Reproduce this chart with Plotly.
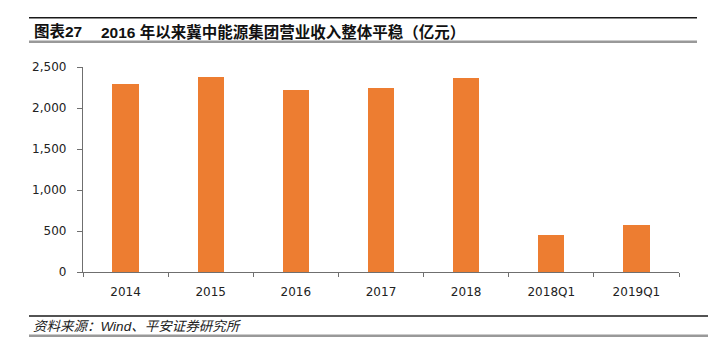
import plotly.graph_objects as go

categories = ["2014", "2015", "2016", "2017", "2018", "2018Q1", "2019Q1"]
revenue = [2293, 2378, 2219, 2244, 2366, 455, 573]
y_ticks = [0, 500, 1000, 1500, 2000, 2500]
title_prefix = "图表27"
title_text = "2016 年以来冀中能源集团营业收入整体平稳（亿元）"
source_text = "资料来源：Wind、平安证券研究所"

W, H = 708, 352
L, R, T, B = 83, 29, 67, 80
PW, PH = W - L - R, H - T - B


def px(x):
    return (x - L) / PW


def py(y):
    return (H - B - y) / PH


fig = go.Figure()
fig.add_trace(go.Bar(
    x=categories, y=revenue,
    marker=dict(color="#ED7D31", line=dict(width=0)),
    width=0.31,
))

font_cjk = "Liberation Sans, Noto Sans CJK SC, sans-serif"

shapes = [
    dict(type="line", xref="paper", yref="paper", x0=px(29), x1=px(697), y0=py(17.7), y1=py(17.7),
         line=dict(color="#1a1a1a", width=1.5)),
    dict(type="line", xref="paper", yref="paper", x0=px(29), x1=px(697), y0=py(41.7), y1=py(41.7),
         line=dict(color="#999999", width=2.5)),
    dict(type="line", xref="paper", yref="paper", x0=px(29), x1=px(708), y0=py(316), y1=py(316),
         line=dict(color="#1a1a1a", width=1.5)),
    dict(type="line", xref="paper", yref="paper", x0=px(29), x1=px(708), y0=py(335.7), y1=py(335.7),
         line=dict(color="#999999", width=2.5)),
]

annotations = [
    dict(text="<b>" + title_prefix + "</b>", xref="paper", yref="paper", x=px(32), y=py(31.5),
         xanchor="left", yanchor="middle", showarrow=False,
         font=dict(family=font_cjk, size=15.5, color="#111111")),
    dict(text="<b>" + title_text + "</b>", xref="paper", yref="paper", x=px(99), y=py(31.5),
         xanchor="left", yanchor="middle", showarrow=False,
         font=dict(family=font_cjk, size=15.5, color="#111111")),
    dict(text="<i>" + source_text + "</i>", xref="paper", yref="paper", x=px(31), y=py(326.5),
         xanchor="left", yanchor="middle", showarrow=False,
         font=dict(family=font_cjk, size=13.5, color="#222222")),
]

fig.update_layout(
    width=W, height=H,
    margin=dict(l=L, r=R, t=T, b=B, pad=0),
    paper_bgcolor="white", plot_bgcolor="white",
    showlegend=False,
    bargap=0,
    shapes=shapes,
    annotations=annotations,
    font=dict(family="DejaVu Sans", size=12, color="#222222"),
)

fig.update_xaxes(
    type="category",
    showline=True, linecolor="#6f6f6f", linewidth=1.3,
    ticks="outside", tickson="boundaries", ticklen=4, tickcolor="#6f6f6f", tickwidth=1,
    showgrid=False, zeroline=False,
    tickfont=dict(family="DejaVu Sans", size=12, color="#222222"),
    ticklabelstandoff=8,
)

fig.update_yaxes(
    range=[0, 2500],
    tickvals=y_ticks, tickformat=",",
    showline=True, linecolor="#6f6f6f", linewidth=1.3,
    ticks="outside", ticklen=5, tickcolor="#6f6f6f", tickwidth=1,
    showgrid=False, zeroline=False,
    tickfont=dict(family="DejaVu Sans", size=12, color="#222222"),
    ticklabelstandoff=8,
)

fig.write_html("out.html")
